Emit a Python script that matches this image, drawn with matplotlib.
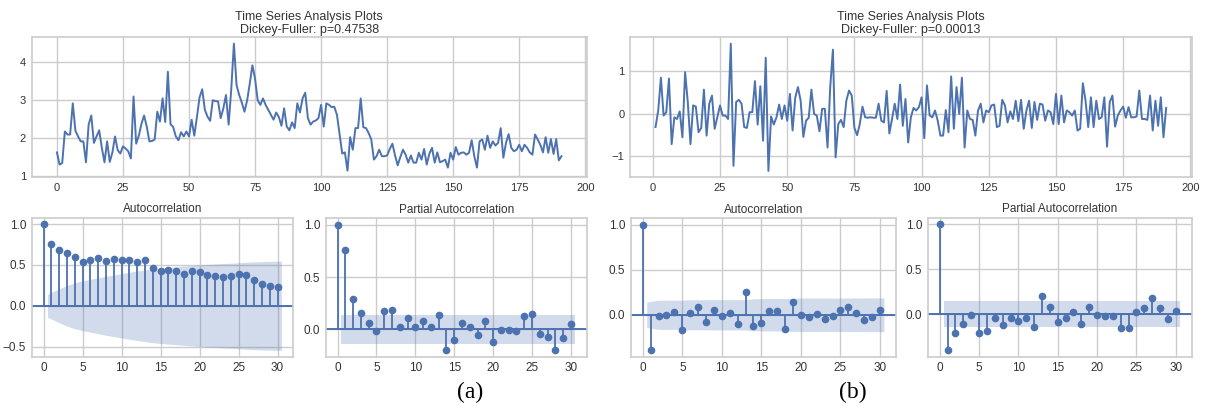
import numpy as np
import matplotlib
matplotlib.use("Agg")
import matplotlib.pyplot as plt
from matplotlib.ticker import MultipleLocator

# --- data ------------------------------------------------------------------
# (a) original series, t = 0..191
series_a = [
    1.63, 1.31, 1.35, 2.18, 2.10, 2.10, 2.92, 2.20, 2.05, 1.92,
    1.92, 1.37, 2.36, 2.60, 1.88, 2.05, 2.21, 1.75, 1.37, 1.92,
    1.38, 1.63, 2.05, 1.69, 1.60, 1.79, 1.73, 1.66, 1.47, 3.10,
    1.86, 2.07, 2.38, 2.60, 2.31, 1.92, 1.93, 1.97, 2.70, 2.44,
    3.05, 2.43, 3.75, 2.37, 2.30, 2.05, 1.95, 2.16, 2.05, 2.18,
    2.05, 2.49, 2.07, 2.56, 3.08, 3.29, 2.75, 2.57, 2.46, 3.00,
    2.98, 2.97, 2.53, 2.79, 3.14, 2.36, 3.30, 4.49, 3.40, 3.14,
    2.94, 2.70, 3.00, 3.44, 3.92, 3.57, 3.00, 2.88, 3.05, 2.88,
    2.75, 2.62, 2.49, 2.68, 2.56, 2.33, 2.79, 2.31, 2.21, 2.42,
    2.27, 2.92, 2.68, 3.05, 3.20, 2.53, 2.36, 2.44, 2.47, 2.53,
    2.88, 2.31, 2.92, 2.88, 2.82, 2.83, 2.62, 2.10, 1.60, 1.63,
    1.15, 2.03, 1.70, 2.27, 2.27, 3.05, 2.29, 2.27, 2.14, 1.97,
    1.44, 1.53, 1.70, 1.53, 1.53, 1.55, 1.72, 1.86, 1.55, 1.29,
    1.51, 1.70, 1.57, 1.36, 1.55, 1.36, 1.36, 1.62, 1.44, 1.72,
    1.31, 1.60, 1.75, 1.36, 1.63, 1.37, 1.40, 1.44, 1.23, 1.62,
    1.44, 1.77, 1.57, 1.62, 1.63, 1.57, 1.62, 1.95, 1.53, 1.23,
    1.92, 1.97, 1.70, 2.07, 1.75, 1.92, 1.81, 1.88, 2.27, 1.49,
    1.88, 2.11, 1.75, 1.66, 1.70, 1.83, 1.66, 1.83, 1.75, 1.63,
    1.57, 2.10, 1.97, 1.83, 1.63, 2.03, 1.62, 1.98, 1.59, 1.98,
    1.42, 1.53,
]

# (b) transformed series, t = 1..191
series_b = [
    -0.31, 0.08, 0.85, -0.04, 0.04, 0.83, -0.71, -0.08, -0.12, 0.06,
    -0.55, 0.98, 0.28, -0.71, 0.20, 0.17, -0.43, -0.33, 0.57, -0.51,
    0.24, 0.43, -0.35, -0.08, 0.20, -0.04, -0.04, -0.12, 1.65, -1.22,
    0.28, 0.33, 0.24, -0.31, -0.33, 0.04, 0.04, 0.77, -0.25, 0.65,
    -0.63, 1.32, -1.34, -0.06, -0.25, -0.08, 0.22, -0.12, 0.20, -0.16,
    0.47, -0.39, 0.39, 0.63, 0.31, -0.54, -0.16, -0.09, 0.57, 0.00,
    -0.04, -0.41, 0.12, 0.12, -0.79, 0.63, 1.51, -1.02, -0.24, -0.14,
    -0.31, 0.31, 0.55, 0.43, -0.33, -0.50, -0.24, 0.17, -0.08, -0.09,
    -0.08, -0.09, -0.09, 0.24, -0.16, -0.20, 0.54, -0.46, -0.12, 0.24,
    -0.12, 0.69, -0.28, 0.35, -0.67, -0.08, 0.14, 0.08, 0.16, 0.39,
    -0.57, 0.67, -0.04, -0.08, 0.08, -0.16, -0.51, -0.51, 0.09, -0.43,
    0.88, -0.35, 0.63, 0.00, 0.85, -0.79, 0.08, -0.12, -0.14, -0.51,
    0.08, 0.24, -0.20, 0.08, 0.04, 0.20, 0.22, -0.31, -0.28, 0.33,
    0.20, -0.20, 0.06, -0.12, 0.31, -0.17, 0.33, -0.35, 0.08, 0.31,
    -0.33, 0.28, -0.14, 0.24, 0.22, -0.16, 0.08, 0.04, -0.24, 0.47,
    -0.24, 0.43, -0.20, 0.08, 0.04, -0.04, 0.08, -0.39, -0.35, 0.72,
    0.31, -0.31, 0.39, -0.31, 0.31, -0.12, -0.08, 0.39, -0.77, 0.28,
    0.43, -0.30, -0.04, 0.08, 0.17, -0.09, 0.16, -0.08, -0.08, -0.06,
    0.55, -0.12, -0.12, -0.14, 0.43, -0.39, 0.31, -0.28, 0.39, -0.55,
    0.14,
]

p_a = 0.47538
p_b = 0.00013

acf_a = [1.0, 0.756, 0.687, 0.650, 0.598, 0.533, 0.557, 0.581, 0.545, 0.573,
         0.561, 0.557, 0.533, 0.557, 0.463, 0.431, 0.439, 0.431, 0.390, 0.431,
         0.407, 0.374, 0.362, 0.350, 0.362, 0.390, 0.378, 0.321, 0.268, 0.244,
         0.232]
acf_a_band = [0.141, 0.207, 0.249, 0.281, 0.305, 0.323, 0.342, 0.361, 0.377, 0.394,
              0.410, 0.425, 0.438, 0.452, 0.461, 0.469, 0.477, 0.485, 0.491, 0.499,
              0.506, 0.511, 0.516, 0.521, 0.526, 0.532, 0.537, 0.541, 0.544, 0.546]
pacf_a = [1.0, 0.756, 0.295, 0.156, 0.063, -0.019, 0.178, 0.190, 0.025, 0.108,
          0.025, 0.076, 0.025, 0.133, -0.200, -0.098, 0.057, 0.025, -0.057, 0.076,
          -0.120, -0.006, -0.006, -0.019, 0.124, 0.143, -0.044, -0.076, -0.200, -0.086,
          0.054]

acf_b = [1.0, -0.395, -0.015, 0.000, 0.030, -0.170, 0.015, 0.089, -0.085, 0.055,
         -0.018, 0.018, -0.103, 0.255, -0.125, -0.089, 0.044, 0.044, -0.159, 0.140,
         -0.004, -0.030, 0.004, -0.052, -0.015, 0.055, 0.089, 0.018, -0.063, -0.030,
         0.055]
acf_b_band = [0.141, 0.162, 0.162, 0.162, 0.162, 0.166, 0.166, 0.167, 0.168, 0.168,
              0.168, 0.168, 0.169, 0.177, 0.179, 0.179, 0.180, 0.180, 0.183, 0.185,
              0.185, 0.185, 0.185, 0.185, 0.185, 0.186, 0.186, 0.187, 0.187, 0.187]
pacf_b = [1.0, -0.405, -0.216, -0.108, -0.015, -0.216, -0.193, -0.045, -0.119, -0.045,
          -0.082, -0.045, -0.141, 0.200, 0.082, -0.086, -0.045, 0.022, -0.108, 0.082,
          -0.015, -0.022, -0.022, -0.152, -0.152, 0.026, 0.067, 0.178, 0.071, -0.059,
          0.037]
pacf_band = 0.1415

BLUE = "#4c72b0"
GRID = "#cccccc"
TXT = "#333333"

plt.rcParams["font.family"] = ["Liberation Sans", "DejaVu Sans"]


def style_ax(ax, tick_size):
    ax.set_facecolor("white")
    ax.grid(True, color=GRID, lw=1.0)
    ax.set_axisbelow(True)
    for s in ax.spines.values():
        s.set_color(GRID)
        s.set_linewidth(1.2)
    ax.tick_params(length=0, labelsize=tick_size, colors=TXT, pad=4)


def draw_ts(ax, t, y, p):
    style_ax(ax, 8)
    ax.plot(t, y, color=BLUE, lw=1.4)
    ax.margins(0.05)
    ax.xaxis.set_major_locator(MultipleLocator(25))
    ax.yaxis.set_major_locator(MultipleLocator(1))
    ax.set_title("Time Series Analysis Plots\nDickey-Fuller: p={0:.5f}".format(p),
                 fontsize=9, color=TXT, pad=3, linespacing=1.1)


def draw_corr(ax, vals, band, title):
    style_ax(ax, 8.5)
    lags = np.arange(len(vals))
    ax.vlines(lags, 0, vals, color=BLUE, lw=1.3)
    ax.plot(lags, vals, "o", color=BLUE, ms=4.5)
    ax.axhline(0, color=BLUE, lw=1.4)
    x = lags[1:].astype(float)
    x[0] -= 0.5
    x[-1] += 0.5
    b = np.broadcast_to(np.asarray(band, dtype=float), x.shape)
    ax.fill_between(x, -b, b, color=BLUE, alpha=0.25, lw=0)
    ax.margins(0.05)
    ax.xaxis.set_major_locator(MultipleLocator(5))
    ax.yaxis.set_major_locator(MultipleLocator(0.5))
    ax.set_title(title, fontsize=8.5, color=TXT, pad=4)


fig = plt.figure(figsize=(12.05, 4.08), dpi=100)
fig.patch.set_facecolor("white")

W, H = 1205.0, 408.0


def box(l, t, r, b):
    return [l / W, 1 - b / H, (r - l) / W, (b - t) / H]


ax_ts_a = fig.add_axes(box(31.7, 37.3, 586.7, 177.0))
ax_ts_b = fig.add_axes(box(630.0, 37.3, 1191.7, 177.3))
ax_acf_a = fig.add_axes(box(31.7, 217.7, 293.3, 356.7))
ax_pacf_a = fig.add_axes(box(325.7, 218.3, 586.7, 356.7))
ax_acf_b = fig.add_axes(box(630.7, 218.3, 896.0, 356.7))
ax_pacf_b = fig.add_axes(box(927.7, 218.0, 1191.7, 356.7))

draw_ts(ax_ts_a, np.arange(len(series_a)), series_a, p_a)
draw_ts(ax_ts_b, np.arange(1, len(series_b) + 1), series_b, p_b)
draw_corr(ax_acf_a, acf_a, acf_a_band, "Autocorrelation")
draw_corr(ax_pacf_a, pacf_a, pacf_band, "Partial Autocorrelation")
draw_corr(ax_acf_b, acf_b, acf_b_band, "Autocorrelation")
draw_corr(ax_pacf_b, pacf_b, pacf_band, "Partial Autocorrelation")

fig.text(470 / W, 1 - 392 / H, "(a)", ha="center", va="center",
         fontsize=17, family=["Liberation Serif", "DejaVu Serif"], color="black")
fig.text(853 / W, 1 - 392 / H, "(b)", ha="center", va="center",
         fontsize=17, family=["Liberation Serif", "DejaVu Serif"], color="black")

fig.savefig("out.png", dpi=100, facecolor="white")
